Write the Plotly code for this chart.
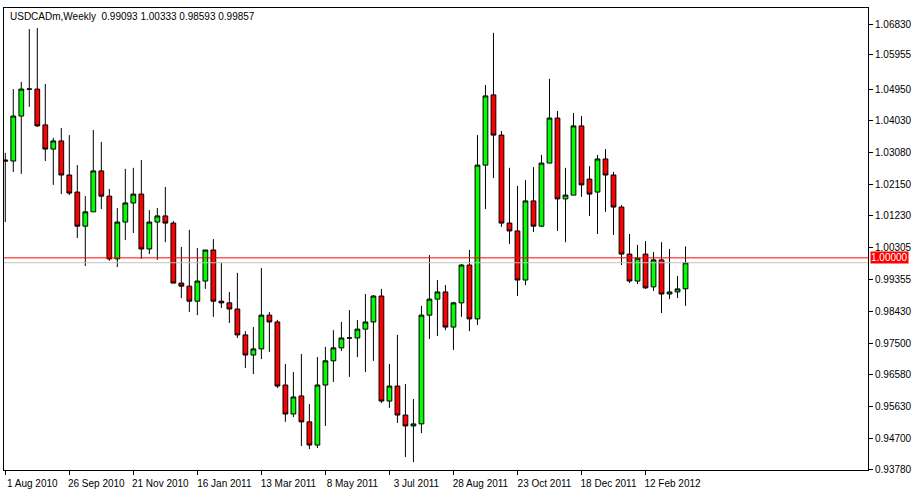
import plotly.graph_objects as go
import datetime as dt

opens = [1.0287,1.0284,1.0416,1.0495,1.0495,1.0390,1.0319,1.0343,1.0243,1.0193,1.0093,1.0135,1.0255,1.0181,0.9997,1.0105,1.0161,1.0187,1.0026,1.0105,1.0123,1.0102,0.9926,0.9917,0.9873,0.9932,1.0023,0.9873,0.9868,0.9850,0.9774,0.9715,0.9733,0.9832,0.9812,0.9627,0.9542,0.9595,0.9519,0.9451,0.9627,0.9698,0.9736,0.9765,0.9765,0.9791,0.9812,0.9888,0.9580,0.9624,0.9539,0.9507,0.9513,0.9832,0.9879,0.9900,0.9797,0.9868,0.9979,0.9821,1.0272,1.0478,1.0360,1.0102,1.0079,0.9935,1.0167,1.0093,1.0278,1.0410,1.0173,1.0184,1.0387,1.0231,1.0193,1.0290,1.0243,1.0149,1.0011,0.9932,1.0011,0.9915,0.9994,0.9894,0.9900,0.99093]
highs = [1.0308,1.0495,1.0516,1.0671,1.0674,1.0510,1.0352,1.0381,1.0360,1.0272,1.0181,1.0375,1.0340,1.0202,1.0146,1.0261,1.0264,1.0287,1.0140,1.0146,1.0208,1.0108,1.0032,1.0082,1.0029,1.0023,1.0055,0.9985,0.9900,0.9956,0.9785,0.9797,0.9970,0.9841,0.9818,0.9689,0.9665,0.9718,0.9571,0.9709,0.9739,0.9788,0.9812,0.9847,0.9818,0.9894,0.9891,0.9909,0.9689,0.9774,0.9630,0.9586,0.9859,1.0008,0.9935,0.9920,0.9871,0.9982,1.0023,1.0360,1.0507,1.0660,1.0372,1.0264,1.0211,1.0228,1.0266,1.0302,1.0525,1.0431,1.0264,1.0425,1.0416,1.0269,1.0302,1.0319,1.0252,1.0155,1.0070,1.0038,1.0049,1.0017,1.0046,1.0026,0.9947,1.00333]
lows = [1.0105,1.0252,1.0246,1.0443,1.0384,1.0284,1.0214,1.0187,1.0184,1.0058,0.9976,1.0135,1.0143,0.9991,0.9973,1.0052,1.0073,0.9997,1.0011,0.9994,1.0046,0.9926,0.9882,0.9841,0.9832,0.9909,0.9827,0.9853,0.9809,0.9765,0.9677,0.9659,0.9703,0.9724,0.9618,0.9519,0.9533,0.9448,0.9439,0.9442,0.9507,0.9636,0.9727,0.9651,0.9709,0.9665,0.9698,0.9574,0.9560,0.9516,0.9416,0.9401,0.9486,0.9762,0.9771,0.9788,0.9730,0.9827,0.9785,0.9803,1.0143,1.0234,1.0091,1.0041,0.9888,0.9920,1.0076,1.0091,1.0278,1.0079,1.0046,1.0184,1.0179,1.0123,1.0070,1.0135,1.0067,0.9979,0.9926,0.9923,0.9909,0.9903,0.9838,0.9879,0.9882,0.98593]
closes = [1.0284,1.0416,1.0495,1.0495,1.0387,1.0319,1.0343,1.0243,1.0190,1.0093,1.0135,1.0255,1.0181,0.9997,1.0105,1.0161,1.0187,1.0026,1.0105,1.0123,1.0102,0.9926,0.9917,0.9873,0.9932,1.0023,0.9873,0.9868,0.9850,0.9774,0.9715,0.9733,0.9832,0.9812,0.9624,0.9542,0.9592,0.9519,0.9451,0.9627,0.9698,0.9736,0.9765,0.9765,0.9791,0.9812,0.9888,0.9580,0.9624,0.9539,0.9507,0.9513,0.9832,0.9879,0.9900,0.9797,0.9868,0.9979,0.9821,1.0272,1.0475,1.0360,1.0102,1.0079,0.9935,1.0167,1.0093,1.0278,1.0410,1.0173,1.0184,1.0387,1.0214,1.0187,1.0290,1.0243,1.0149,1.0011,0.9932,0.9999,0.9912,0.9994,0.9894,0.9900,0.9909,0.99857]

start = dt.date(2010, 8, 1)
dates = [start + dt.timedelta(weeks=i) for i in range(len(opens))]
tick_idx = list(range(0, len(opens), 8))
tick_text = [f"{d.day} {d.strftime('%b %Y')}" for d in (dates[i] for i in tick_idx)]
y_ticks = [1.06830,1.05955,1.04950,1.04030,1.03080,1.02150,1.01230,1.00305,0.99355,0.98430,0.97500,0.96580,0.95630,0.94700,0.93780]
level = 1.00000
bid = 0.99857
font = dict(size=10, family="Liberation Sans", color="black")

fig = go.Figure(go.Candlestick(
    x=list(range(len(opens))), open=opens, high=highs, low=lows, close=closes,
    increasing=dict(fillcolor="#00ff00", line=dict(color="black", width=1)),
    decreasing=dict(fillcolor="#ff0000", line=dict(color="black", width=1)),
    whiskerwidth=0, showlegend=False, hoverinfo="skip"))

fig.add_hline(y=bid, line=dict(color="#c0c0c0", width=1))
fig.add_hline(y=level, line=dict(color="#ff0000", width=1))
fig.add_annotation(x=1, xref="paper", y=level, yref="y", text="1.00000", showarrow=False,
                   xanchor="left", bgcolor="#ff0000", font=dict(color="white", size=10, family="Liberation Sans"),
                   borderpad=0, xshift=2)
fig.add_annotation(x=0, xref="paper", y=1, yref="paper", yanchor="top", xanchor="left",
                   text="USDCADm,Weekly  0.99093 1.00333 0.98593 0.99857", showarrow=False,
                   font=font, xshift=4, yshift=-1)

fig.update_layout(
    width=913, height=494, margin=dict(l=4, r=45, t=8, b=24), boxgap=0.15,
    paper_bgcolor="white", plot_bgcolor="white",
    xaxis=dict(range=[-0.16, 107.8], tickvals=tick_idx, ticktext=tick_text, ticks="outside",
               ticklen=4, tickcolor="black", showgrid=False, zeroline=False, showline=True,
               linecolor="black", mirror=True, rangeslider=dict(visible=False), automargin=False,
               ticklabelshift=27, tickfont=font),
    yaxis=dict(range=[0.93778, 1.07328], side="right", tickvals=y_ticks, automargin=False,
               ticktext=[f"{v:.5f}" for v in y_ticks], ticks="outside", ticklen=4, tickcolor="black",
               showgrid=False, zeroline=False, showline=True, linecolor="black", mirror=True,
               tickfont=font),
)
fig.write_html("out.html", config={"displayModeBar": False})
with open("out.html", encoding="utf-8") as f:
    html = f.read()
html = html.replace("<head>", "<head><style>html,body{margin:0;padding:0;overflow:hidden}</style>", 1)
with open("out.html", "w", encoding="utf-8") as f:
    f.write(html)
